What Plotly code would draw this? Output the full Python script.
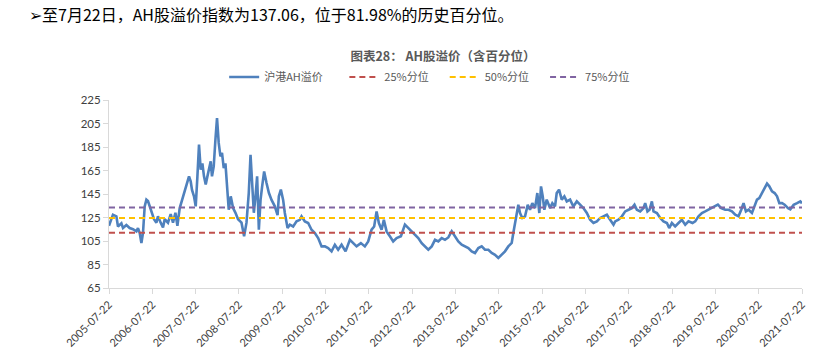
import plotly.graph_objects as go
from datetime import datetime

# ---- data ----
years = [2005.553, 2005.645, 2005.724, 2005.761, 2005.840, 2005.877, 2005.955, 2006.031, 2006.108, 2006.186,
         2006.223, 2006.262, 2006.302, 2006.339, 2006.378, 2006.417, 2006.454, 2006.494, 2006.533, 2006.593,
         2006.648, 2006.685, 2006.748, 2006.801, 2006.840, 2006.916, 2006.979, 2007.032, 2007.088, 2007.134,
         2007.187, 2007.240, 2007.302, 2007.365, 2007.402, 2007.441, 2007.471, 2007.517, 2007.557, 2007.596,
         2007.633, 2007.672, 2007.711, 2007.748, 2007.788, 2007.827, 2007.864, 2007.903, 2007.933, 2007.973,
         2008.012, 2008.049, 2008.088, 2008.127, 2008.164, 2008.204, 2008.243, 2008.280, 2008.319, 2008.365,
         2008.419, 2008.474, 2008.534, 2008.613, 2008.673, 2008.728, 2008.781, 2008.821, 2008.858, 2008.897,
         2008.936, 2008.973, 2009.013, 2009.052, 2009.089, 2009.135, 2009.190, 2009.244, 2009.306, 2009.382,
         2009.445, 2009.475, 2009.521, 2009.574, 2009.613, 2009.676, 2009.729, 2009.805, 2009.884, 2009.960,
         2009.999, 2010.076, 2010.152, 2010.230, 2010.307, 2010.383, 2010.462, 2010.538, 2010.614, 2010.693,
         2010.769, 2010.845, 2010.924, 2011.016, 2011.116, 2011.192, 2011.270, 2011.370, 2011.462, 2011.539,
         2011.617, 2011.677, 2011.733, 2011.786, 2011.848, 2011.901, 2011.964, 2012.040, 2012.116, 2012.195,
         2012.294, 2012.387, 2012.463, 2012.542, 2012.618, 2012.694, 2012.773, 2012.849, 2012.925, 2013.004,
         2013.080, 2013.156, 2013.235, 2013.311, 2013.387, 2013.466, 2013.542, 2013.618, 2013.697, 2013.773,
         2013.850, 2013.928, 2014.004, 2014.081, 2014.159, 2014.235, 2014.312, 2014.390, 2014.466, 2014.543,
         2014.621, 2014.697, 2014.774, 2014.852, 2014.889, 2014.929, 2014.968, 2015.005, 2015.044, 2015.097,
         2015.160, 2015.222, 2015.275, 2015.328, 2015.391, 2015.444, 2015.490, 2015.529, 2015.569, 2015.606,
         2015.661, 2015.738, 2015.791, 2015.853, 2015.892, 2015.946, 2016.008, 2016.068, 2016.124, 2016.200,
         2016.276, 2016.355, 2016.431, 2016.507, 2016.586, 2016.662, 2016.739, 2016.817, 2016.893, 2016.970,
         2017.048, 2017.124, 2017.201, 2017.240, 2017.316, 2017.395, 2017.471, 2017.548, 2017.626, 2017.686,
         2017.741, 2017.818, 2017.894, 2017.933, 2017.986, 2018.033, 2018.088, 2018.125, 2018.204, 2018.280,
         2018.356, 2018.435, 2018.488, 2018.550, 2018.626, 2018.703, 2018.781, 2018.858, 2018.934, 2019.026,
         2019.089, 2019.165, 2019.244, 2019.320, 2019.396, 2019.475, 2019.551, 2019.613, 2019.690, 2019.782,
         2019.858, 2019.937, 2020.013, 2020.089, 2020.152, 2020.205, 2020.260, 2020.321, 2020.399, 2020.459,
         2020.515, 2020.568, 2020.630, 2020.690, 2020.746, 2020.799, 2020.861, 2020.921, 2020.977, 2021.030,
         2021.092, 2021.152, 2021.231, 2021.284, 2021.360, 2021.439, 2021.515, 2021.553]

ah_premium = [118, 127.4, 126, 117.4, 120, 116, 118.6, 116, 115, 113.2,
              116, 112, 103.3, 112, 134.5, 140.2, 139, 134.5, 130.6, 123.5,
              120.6, 126, 120.6, 116.5, 123.5, 120.6, 127.8, 120.6, 129, 118,
              133, 140, 147.2, 154.4, 160, 155.7, 148.5, 143, 134.5, 160,
              187, 165.7, 171, 160, 153, 160, 167, 172.8, 160, 168.5,
              191.2, 209.7, 188.5, 177, 180, 167, 171, 151.5, 131.6, 143,
              133, 129, 123.5, 120.6, 109, 120.6, 146, 178.4, 148.5, 129,
              143, 160, 114.6, 140, 151.5, 164.2, 154.4, 146, 140, 134.5,
              127, 143, 148.7, 140, 128.8, 116, 118.9, 117.4, 121.7, 123,
              125.9, 121.7, 120.3, 114.6, 111.8, 107.5, 100.4, 100.4, 99, 96.2,
              101.8, 97.6, 101.8, 96.2, 106, 103.2, 100.4, 103.2, 100.4, 104.6,
              114.6, 117.4, 130.2, 120.3, 114.6, 123, 113.2, 109, 104.6, 107.5,
              109, 118.9, 116, 113.2, 110.4, 107.5, 103.2, 100.4, 97.6, 100.4,
              106, 104.6, 107.5, 106, 108, 113.2, 109, 104.7, 101.9, 100.4,
              99, 96.2, 94.8, 99, 100.4, 97.6, 97.6, 94.8, 93.3, 90.5,
              93.3, 96.2, 100.4, 103.3, 111.8, 120.3, 131.6, 135.9, 128.8, 124.6,
              126, 135.9, 131.6, 137.2, 133, 145.8, 128.8, 151.5, 143, 131.6,
              140.2, 133, 137.2, 134.4, 145.8, 148.7, 140.2, 143, 138.7, 140.2,
              134.4, 138.7, 135.9, 133, 128.8, 123.1, 120.3, 121.7, 124.6, 126,
              127.4, 123.1, 118.9, 121.7, 123.1, 126, 130.2, 131.6, 133, 135.9,
              131.6, 130.2, 133, 137.2, 130.2, 131.6, 138.7, 130.2, 128.8, 124.6,
              121.7, 120.3, 116, 120.3, 117.5, 120.3, 123.1, 118.9, 121.7, 120.3,
              121.7, 126, 128.8, 130.2, 131.6, 133, 134.4, 135.9, 133, 131.6,
              131.6, 130.2, 127.4, 126, 131.6, 137.2, 130.2, 131.6, 128.8, 134.4,
              140.2, 141.6, 145.8, 150, 153.8, 151.5, 147.2, 145.8, 143, 137.2,
              137.2, 135.9, 133, 132, 135.9, 137.2, 138.7, 137.06]

pct_names = ["25%分位", "50%分位", "75%分位"]
pct_values = [112.0, 124.6, 133.6]
pct_colors = ["#C0504D", "#FFC000", "#8064A2"]

tick_dates = ["%d-07-22" % y for y in range(2005, 2022)]
y_ticks = [65, 85, 105, 125, 145, 165, 185, 205, 225]

series_name = "沪港AH溢价"
title_text = "图表28： AH股溢价（含百分位）"
note_text = "➢至7月22日，AH股溢价指数为137.06，位于81.98%的历史百分位。"


def dec_to_date(d):
    y = int(d)
    s = datetime(y, 1, 1)
    e = datetime(y + 1, 1, 1)
    return s + (e - s) * (d - y)


dates = [dec_to_date(v) for v in years]

CJK = "Noto Sans CJK SC"
fig = go.Figure()
fig.add_trace(go.Scatter(x=dates, y=ah_premium, mode="lines", name=series_name + "\u2002\u2002\u2002",
                         line=dict(color="#4F81BD", width=2.6)))
for n, v, c in zip(pct_names, pct_values, pct_colors):
    fig.add_trace(go.Scatter(x=[tick_dates[0], tick_dates[-1]], y=[v, v], mode="lines",
                             name=n + "\u2002\u2002",
                             line=dict(color=c, width=2, dash="6px,4px")))

fig.update_layout(
    width=833, height=355,
    margin=dict(l=109, r=31, t=100, b=67, autoexpand=False),
    paper_bgcolor="white", plot_bgcolor="white",
    font=dict(family=CJK, size=11, color="#595959"),
    title=dict(text="<b>" + title_text + "</b>", x=443 / 833, xanchor="center",
               y=1 - 57 / 355, yanchor="middle", font=dict(family=CJK, size=12.5, color="#595959")),
    showlegend=True,
    legend=dict(orientation="h", x=(224 - 109) / 692, xanchor="left", y=1 + 23 / 188, yanchor="middle",
                font=dict(family=CJK, size=11, color="#595959"), bgcolor="rgba(0,0,0,0)",
                itemwidth=30, tracegroupgap=0),
    xaxis=dict(type="date", range=[tick_dates[0], tick_dates[-1]], automargin=False,
               tickvals=tick_dates, ticktext=tick_dates, tickangle=-45,
               showgrid=False, zeroline=False, showline=True, linecolor="#D9D9D9", linewidth=1,
               ticks="outside", ticklen=5, tickcolor="#D9D9D9",
               tickfont=dict(family="Lato", size=11, color="#404040")),
    yaxis=dict(range=[65, 225], tickvals=y_ticks, showgrid=False, zeroline=False, automargin=False,
               showline=True, linecolor="#D9D9D9", linewidth=1,
               ticks="outside", ticklen=5, tickcolor="#D9D9D9",
               tickfont=dict(family="Lato", size=11.5, color="#404040")),
)
fig.add_annotation(text=note_text, xref="paper", yref="paper",
                   x=(27 - 109) / 692, xanchor="left", y=1 + 100 / 188, yanchor="top",
                   showarrow=False, font=dict(family=CJK, size=16, color="#000000"))

fig.write_html("out.html", config={"displayModeBar": False},
               post_script="document.body.style.margin='0px';document.body.style.overflow='hidden';")
